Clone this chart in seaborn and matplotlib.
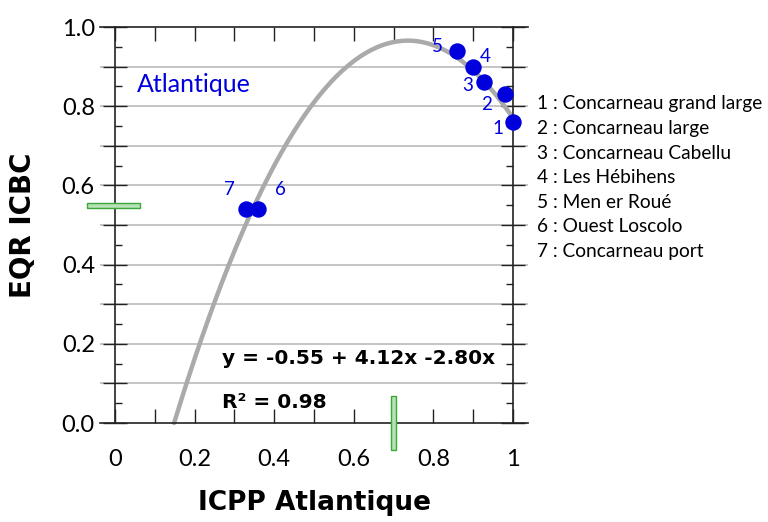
import numpy as np
import pandas as pd
import matplotlib
matplotlib.use("Agg")
import matplotlib.pyplot as plt
from matplotlib.patches import Rectangle
from matplotlib.ticker import MultipleLocator, FixedLocator, FixedFormatter
import seaborn as sns

# ---- data ----
site_ids = ["1", "2", "3", "4", "5", "6", "7"]
site_names = ["Concarneau grand large", "Concarneau large", "Concarneau Cabellu",
              "Les Hébihens", "Men er Roué", "Ouest Loscolo", "Concarneau port"]
icpp = [1.00, 0.98, 0.927, 0.899, 0.859, 0.359, 0.329]
eqr = [0.76, 0.83, 0.86, 0.90, 0.94, 0.54, 0.54]
fit_coefs = [-0.55, 4.12, -2.80]   # y = a + b x + c x^2
r2 = 0.98
eqr_boundary = 0.55
icpp_boundary = 0.70
y_ticks = [0.0, 0.2, 0.4, 0.6, 0.8, 1.0]
y_ticklabels = ["0.0", "0.2", "0.4", "0.6", "0.8", "1.0"]
x_ticks = [0.0, 0.2, 0.4, 0.6, 0.8, 1.0]
x_ticklabels = ["0", "0.2", "0.4", "0.6", "0.8", "1"]

# label offsets (points) for the site numbers
label_offsets = [(-11, -5), (-13, -7), (-12, -2), (9, 7), (-14, 3), (16, 14), (-12, 14)]

sns.set_style("white")
plt.rcParams["font.family"] = ["Lato", "DejaVu Sans"]
plt.rcParams["text.color"] = "black"
plt.rcParams["axes.labelcolor"] = "black"
bold_font = ["DejaVu Sans"]

W, H = 768, 522
fig = plt.figure(figsize=(W / 100, H / 100), dpi=100)
ax_left_px, ax_right_px, ax_top_px, ax_bot_px = 100, 528, 27, 423
ax = fig.add_axes([ax_left_px / W, 1 - ax_bot_px / H,
                   (ax_right_px - ax_left_px) / W, (ax_bot_px - ax_top_px) / H])

ext = 15 / 398
ax.set_xlim(-ext, 1 + ext)
ax.set_ylim(0, 1)

blue = "#0000dd"
gray_curve = "#aaaaaa"

# grid lines
for yv in np.arange(0.1, 1.0, 0.1):
    ax.axhline(yv, color="#c4c4c4", lw=1.4, zorder=0)

# fitted curve
a, b, c = fit_coefs
disc = b * b - 4 * c * a
x0 = (-b + np.sqrt(disc)) / (2 * c)
xs = np.linspace(x0, 1.0, 200)
curve = pd.DataFrame({"x": xs, "y": a + b * xs + c * xs ** 2})
sns.lineplot(data=curve, x="x", y="y", color=gray_curve, lw=3.2, ax=ax, zorder=2,
             clip_on=False)

# points
pts = pd.DataFrame({"icpp": icpp, "eqr": eqr, "id": site_ids})
sns.scatterplot(data=pts, x="icpp", y="eqr", color=blue, s=140, edgecolor=blue,
                linewidth=0, ax=ax, zorder=4, clip_on=False)
for (xv, yv, lab), off in zip(zip(icpp, eqr, site_ids), label_offsets):
    ax.annotate(lab, (xv, yv), xytext=off, textcoords="offset points",
                color=blue, fontsize=13.5, ha="center", va="center", zorder=5)

# boundary markers
ax.add_patch(Rectangle((-0.07, eqr_boundary - 0.0065), 0.133, 0.013,
                       facecolor="#b6e2b6", edgecolor="#3aa83a", lw=1.0,
                       clip_on=False, zorder=6))
ax.add_patch(Rectangle((icpp_boundary - 0.0065, -0.068), 0.013, 0.136,
                       facecolor="#b6e2b6", edgecolor="#3aa83a", lw=1.0,
                       clip_on=False, zorder=6))

# spines
ax.spines["left"].set_position(("data", 0))
ax.spines["right"].set_position(("data", 1))
for s in ax.spines.values():
    s.set_color("#222222")
    s.set_linewidth(1.2)

# y ticks
ax.yaxis.set_major_locator(FixedLocator(list(np.round(np.arange(0, 1.01, 0.1), 2))))
ylabels_all = []
for v in np.round(np.arange(0, 1.01, 0.1), 2):
    lab = ""
    for t, tl in zip(y_ticks, y_ticklabels):
        if abs(t - v) < 1e-6:
            lab = tl
    ylabels_all.append(lab)
ax.yaxis.set_major_formatter(FixedFormatter(ylabels_all))
ax.yaxis.set_minor_locator(MultipleLocator(0.05))
ax.tick_params(axis="y", which="major", direction="inout", length=17, width=1.0,
               left=True, right=True, labelsize=17, pad=6, colors="#222222")
ax.tick_params(axis="y", which="minor", direction="in", length=5, width=1.0,
               left=True, right=True, colors="#222222")

# x ticks
ax.xaxis.set_major_locator(FixedLocator(list(np.round(np.arange(0, 1.01, 0.1), 2))))
xlabels_all = []
for v in np.round(np.arange(0, 1.01, 0.1), 2):
    lab = ""
    for t, tl in zip(x_ticks, x_ticklabels):
        if abs(t - v) < 1e-6:
            lab = tl
    xlabels_all.append(lab)
ax.xaxis.set_major_formatter(FixedFormatter(xlabels_all))
ax.tick_params(axis="x", which="major", direction="in", length=10, width=1.0,
               bottom=True, top=True, labelsize=17, pad=19, colors="#222222")
for lbl in ax.get_yticklabels() + ax.get_xticklabels():
    lbl.set_color("black")

ax.set_xlabel("ICPP Atlantique", fontsize=19, fontweight="bold", family=bold_font,
              labelpad=14, color="black")
ax.set_ylabel("EQR ICBC", fontsize=20, fontweight="bold", family=bold_font,
              color="black")
ax.yaxis.set_label_coords(-0.148, 0.5)

# texts
ax.text(0.055, 0.856, "Atlantique", color=blue, fontsize=18, ha="left", va="center")
ax.text(0.268, 0.164, "y = %.2f + %.2fx %.2fx" % (a, b, c), fontsize=14.5,
        fontweight="bold", family=bold_font, ha="left", va="center", color="black")
ax.text(0.268, 0.053, "R² = %.2f" % r2, fontsize=14.5, fontweight="bold",
        family=bold_font, ha="left", va="center", color="black")

# legend of sites
for i, (sid, name) in enumerate(zip(site_ids, site_names)):
    fig.text(537 / W, 1 - (104 + i * 24.6) / H, f"{sid} : {name}", fontsize=13.8,
             ha="left", va="center", color="black")

fig.savefig("out.png", dpi=100)
